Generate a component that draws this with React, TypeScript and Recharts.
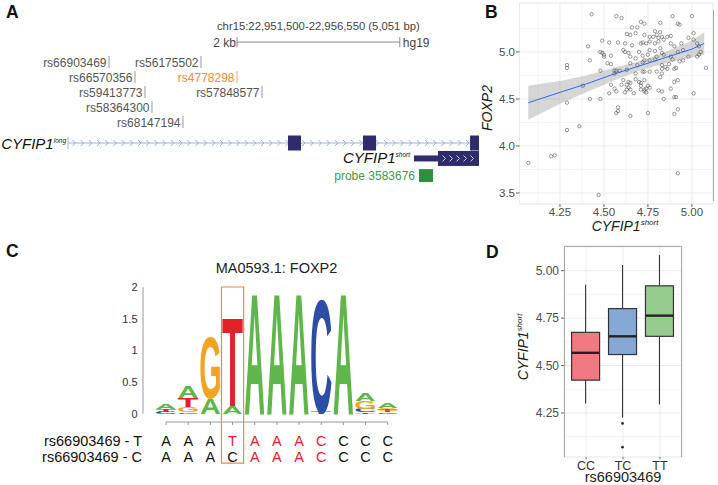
import React from 'react';
import {
  ComposedChart, Scatter, Line, Area, Bar, XAxis, YAxis, CartesianGrid,
  ReferenceLine, ReferenceArea, Label,
} from 'recharts';

const FONT = '"Liberation Sans", Arial, Helvetica, sans-serif';

// ---------- A: locus view (hg19) ----------
const chrom = 'chr15';
const regionStart = 22951500;
const regionEnd = 22956550;
const scaleBarBp = [22953577, 22955577];
const snpIds = ['rs66903469', 'rs56175502', 'rs66570356', 'rs4778298', 'rs59413773', 'rs57848577', 'rs58364300', 'rs68147194'];
const snpPos = [22952004, 22953134, 22952323, 22953577, 22952446, 22953884, 22952532, 22952913];
const snpRow = [0, 0, 1, 1, 2, 2, 3, 4];
const highlightSnp = 'rs4778298';
const longExonStart = [22954203, 22955125, 22956440];
const longExonEnd = [22954363, 22955285, 22956550];
const shortUtr = [22955751, 22956046];
const shortCds = [22956046, 22956550];
const probeId = '3583676';
const probeSpan = [22955813, 22955985];

// ---------- B: FOXP2 vs CYFIP1 short ----------
const cyfipShort = [
  4.43, 4.57, 4.60, 4.89, 5.00, 4.71, 4.73, 4.82, 4.92, 4.93,
  4.66, 4.69, 4.79, 4.82, 4.63, 4.65, 4.68, 4.73, 4.76, 4.78,
  4.80, 4.81, 4.83, 4.86, 4.88, 5.01, 4.98, 5.01, 4.49, 4.53,
  4.58, 4.62, 4.66, 4.71, 4.72, 4.74, 4.76, 4.79, 4.81, 4.84,
  4.88, 4.90, 4.94, 4.41, 4.48, 4.49, 4.50, 4.61, 4.62, 4.70,
  4.76, 4.79, 4.82, 4.83, 4.92, 4.95, 5.03, 5.04, 5.05, 5.04,
  5.03, 4.42, 4.50, 4.54, 4.64, 4.65, 4.68, 4.72, 4.73, 4.75,
  4.80, 4.84, 4.88, 4.89, 4.93, 4.95, 4.98, 4.52, 4.54, 4.65,
  4.69, 4.72, 4.76, 4.79, 4.83, 4.85, 4.87, 4.29, 4.29, 4.48,
  4.56, 4.57, 4.59, 4.63, 4.72, 4.76, 4.80, 4.83, 4.86, 4.90,
  4.91, 5.08, 4.56, 4.68, 4.73, 4.82, 4.83, 4.61, 4.64, 4.65,
  4.68, 4.70, 4.73, 4.63, 4.64, 4.54, 4.60, 4.71, 4.71, 4.75,
  4.90, 4.92, 4.38, 4.56, 4.63, 4.65, 4.71, 4.73, 4.74, 4.76,
  4.88, 4.53, 4.57, 4.62, 4.67, 4.73, 4.74, 4.81, 4.83, 4.48,
  4.42, 4.29, 4.91, 5.01, 4.84, 4.90, 4.58, 4.58, 4.57, 4.65,
  4.75, 4.90, 4.92, 4.29, 4.36, 4.20, 4.22, 4.07, 4.92, 4.47,
];
const foxp2 = [
  5.40, 5.38, 5.36, 5.38, 5.38, 5.32, 5.30, 5.31, 5.30, 5.29,
  5.26, 5.26, 5.22, 5.21, 5.19, 5.18, 5.20, 5.18, 5.16, 5.16,
  5.18, 5.15, 5.16, 5.16, 5.17, 5.20, 5.15, 5.13, 5.12, 5.10,
  5.10, 5.09, 5.07, 5.09, 5.10, 5.09, 5.11, 5.09, 5.11, 5.13,
  5.09, 5.06, 5.09, 5.06, 5.00, 4.99, 4.97, 5.02, 5.00, 5.00,
  5.02, 5.01, 5.04, 4.99, 5.00, 5.02, 5.09, 5.06, 5.00, 4.97,
  4.95, 4.91, 4.95, 4.96, 4.99, 4.95, 4.93, 4.96, 4.91, 4.97,
  4.95, 4.97, 4.95, 4.92, 4.90, 4.91, 4.95, 4.88, 4.87, 4.88,
  4.86, 4.89, 4.91, 4.92, 4.86, 4.84, 4.87, 4.86, 4.83, 4.80,
  4.80, 4.80, 4.80, 4.81, 4.79, 4.79, 4.79, 4.82, 4.82, 4.82,
  4.83, 4.83, 4.77, 4.77, 4.79, 4.73, 4.77, 4.70, 4.68, 4.67,
  4.71, 4.68, 4.70, 4.65, 4.62, 4.65, 4.65, 4.67, 4.64, 4.64,
  4.68, 4.70, 4.64, 4.61, 4.60, 4.60, 4.60, 4.60, 4.61, 4.62,
  4.61, 4.56, 4.58, 4.57, 4.56, 4.58, 4.57, 4.59, 4.58, 4.50,
  4.50, 4.46, 4.52, 4.56, 4.50, 4.52, 4.41, 4.37, 4.35, 4.32,
  4.35, 4.34, 4.39, 4.17, 4.21, 3.89, 3.90, 3.82, 3.71, 3.48,
];
const fitX = [4.07, 4.25, 4.40, 4.55, 4.70, 4.85, 5.00, 5.07];
const fitY = [4.46, 4.57, 4.66, 4.76, 4.85, 4.94, 5.03, 5.09];
const fitLo = [4.28, 4.45, 4.57, 4.69, 4.80, 4.88, 4.94, 4.97];
const fitHi = [4.64, 4.69, 4.75, 4.83, 4.90, 5.00, 5.12, 5.21];
const scatterXTicks = [4.25, 4.5, 4.75, 5.0];
const scatterYTicks = [3.5, 4.0, 4.5, 5.0];
const scatterXMinor = [4.125, 4.375, 4.625, 4.875];
const scatterYMinor = [3.75, 4.25, 4.75, 5.25];

// ---------- C: MA0593.1 FOXP2 motif ----------
const motifName = 'MA0593.1: FOXP2';
const logoPos = [1, 2, 3, 4, 5, 6, 7, 8, 9, 10, 11];
const logoLetters = [
  ['C', 'T', 'A'], ['C', 'G', 'T', 'A'], ['A', 'G'], ['A', 'T'], ['A'], ['A'],
  ['A'], ['T', 'C'], ['A'], ['T', 'C', 'G', 'A'], ['C', 'T', 'G', 'A'],
];
const logoBits = [
  [0.03, 0.04, 0.085], [0.02, 0.08, 0.15, 0.19], [0.25, 0.96], [0.13, 1.40], [1.90], [1.90],
  [1.90], [0.03, 1.78], [1.90], [0.02, 0.05, 0.13, 0.13], [0.02, 0.03, 0.04, 0.07],
];
const logoTicks = [0, 0.5, 1, 1.5, 2];
const alleleSnp = 'rs66903469';
const seqAlleleT = ['A', 'A', 'A', 'T', 'A', 'A', 'A', 'C', 'C', 'C', 'C'];
const seqAlleleC = ['A', 'A', 'A', 'C', 'A', 'A', 'A', 'C', 'C', 'C', 'C'];
const matchT = [0, 0, 0, 1, 1, 1, 1, 1, 0, 0, 0];
const matchC = [0, 0, 0, 0, 1, 1, 1, 1, 0, 0, 0];
const snpColumn = 4;

// ---------- D: CYFIP1 short by genotype ----------
const genotypes = ['CC', 'TC', 'TT'];
const boxMin = [4.30, 4.225, 4.295];
const boxQ1 = [4.423, 4.558, 4.654];
const boxMedian = [4.567, 4.654, 4.763];
const boxQ3 = [4.675, 4.80, 4.92];
const boxMax = [4.926, 5.03, 5.083];
const boxOutliers = [[], [4.195, 4.07], []];
const boxYTicks = [4.25, 4.5, 4.75, 5.0];
const boxYMinor = [4.125, 4.375, 4.625, 4.875, 5.125];

// ---------- styles ----------
const NAVY = '#2e2c6c';
const LETTER_COLOR: Record<string, string> = { A: '#5fb64a', C: '#2c4da6', G: '#f4a321', T: '#e32228' };
const LETTER_INK: Record<string, number> = { A: 72, C: 67, G: 72, T: 60 };
const BOX_FILL = ['#f07982', '#86a8d5', '#95cc8e'];
const SEQ_RED = '#e32228';
const AXIS_TEXT = '#4d4d4d';

// lanes for the locus track
const LANE_SCALE = -1.33;
const LANE_LONG = 5.4;
const LANE_SHORT = 6.43;
const LANE_PROBE = 7.57;

const fmt = (n: number) => n.toLocaleString('en-US');

const SupTitle = ({ x, y, main, sup, rotate, size = 14 }: any) => (
  <text
    transform={`translate(${x},${y})${rotate ? ' rotate(-90)' : ''}`}
    textAnchor="middle" fontFamily={FONT} fontStyle="italic" fontSize={size} fill="#1a1a1a"
  >
    {main}
    {sup && <tspan dy={-size * 0.4} fontSize={size * 0.57}>{sup}</tspan>}
  </text>
);

// ---------- A ----------
const ScaleBarShape = (p: any) => {
  const { x1, x2, y1 } = p;
  return (
    <g fontFamily={FONT}>
      <line x1={x1} x2={x2} y1={y1} y2={y1} stroke="#8a8a8a" />
      <line x1={x1} x2={x1} y1={y1 - 5} y2={y1 + 5} stroke="#8a8a8a" />
      <line x1={x2} x2={x2} y1={y1 - 5} y2={y1 + 5} stroke="#8a8a8a" />
      <text x={x1 - 1} y={y1 + 4.5} textAnchor="end" fontSize={12} fill="#444">2 kb</text>
      <text x={x2 + 3} y={y1 + 4.5} fontSize={12} fill="#444">hg19</text>
      <text x={(x1 + x2) / 2} y={y1 - 12} textAnchor="middle" fontSize={11.3} fill="#444">
        {`${chrom}:${fmt(regionStart)}-${fmt(regionEnd)} (${fmt(regionEnd - regionStart + 1)} bp)`}
      </text>
    </g>
  );
};

const BackboneShape = (p: any) => {
  const { x, y, width, height } = p;
  const cy = y + height / 2;
  const marks: number[] = [];
  for (let cx = x + 6; cx < x + width - 2; cx += 8.2) marks.push(cx);
  return (
    <g>
      <line x1={x} x2={x + width} y1={cy} y2={cy} stroke="#a4b6ca" />
      <line x1={x} x2={x} y1={cy - 6} y2={cy + 6} stroke="#a4b6ca" />
      {marks.map((cx) => (
        <path key={cx} d={`M${cx - 1.6},${cy - 3} L${cx + 1.4},${cy} L${cx - 1.6},${cy + 3}`}
          stroke="#8db4d9" fill="none" strokeWidth={1} />
      ))}
      <text x={x - 2} y={cy + 5.5} textAnchor="end" fontFamily={FONT} fontStyle="italic" fontSize={15} fill="#111">
        CYFIP1<tspan dy={-6} fontSize={6.5}>long</tspan>
      </text>
    </g>
  );
};

const UtrShape = (p: any) => {
  const { x, y, width, height } = p;
  return (
    <g>
      <rect x={x} y={y} width={width} height={height} fill={NAVY} />
      <text x={x - 4} y={y + height / 2 + 5} textAnchor="end" fontFamily={FONT} fontStyle="italic" fontSize={15} fill="#111">
        CYFIP1<tspan dy={-6} fontSize={6.5}>short</tspan>
      </text>
    </g>
  );
};

const CdsShape = (p: any) => {
  const { x, y, width, height } = p;
  const cy = y + height / 2;
  const marks: number[] = [];
  for (let cx = x + 6; cx < x + width - 3; cx += 7) marks.push(cx);
  return (
    <g>
      <rect x={x} y={y} width={width} height={height} fill={NAVY} />
      {marks.map((cx) => (
        <path key={cx} d={`M${cx - 1.5},${cy - 3} L${cx + 1.5},${cy} L${cx - 1.5},${cy + 3}`}
          stroke="#c9cbe6" fill="none" strokeWidth={1} />
      ))}
    </g>
  );
};

const SnpMark = (p: any) => {
  const { cx, cy, payload } = p;
  const lead = payload.id === highlightSnp;
  return (
    <g>
      <line x1={cx} x2={cx} y1={cy - 6} y2={cy + 6} stroke={lead ? '#f4a46a' : '#9a9a9a'} />
      <text x={cx - 2.5} y={cy + 4.5} textAnchor="end" fontFamily={FONT} fontSize={12}
        fill={lead ? '#f28a3a' : '#555'}>{payload.id}</text>
    </g>
  );
};

const GeneTrack = () => {
  const snpData = snpIds.map((id, i) => ({ x: snpPos[i], y: snpRow[i], id }));
  return (
    <ComposedChart width={480} height={185} margin={{ top: 2, right: 1, bottom: 0, left: 68 }}>
      <XAxis type="number" dataKey="x" domain={[regionStart, regionEnd]} hide />
      <YAxis type="number" dataKey="y" domain={[-4, 8.2]} reversed hide />
      <ReferenceLine
        segment={[{ x: scaleBarBp[0], y: LANE_SCALE }, { x: scaleBarBp[1], y: LANE_SCALE }]}
        shape={ScaleBarShape} ifOverflow="visible"
      />
      <ReferenceArea x1={regionStart} x2={regionEnd} y1={LANE_LONG - 0.4} y2={LANE_LONG + 0.4}
        shape={BackboneShape} ifOverflow="visible" />
      {longExonStart.map((s, i) => (
        <ReferenceArea key={s} x1={s} x2={longExonEnd[i]} y1={LANE_LONG - 0.5} y2={LANE_LONG + 0.5}
          fill={NAVY} fillOpacity={1} stroke="none" ifOverflow="visible" />
      ))}
      <ReferenceArea x1={shortUtr[0]} x2={shortUtr[1]} y1={LANE_SHORT - 0.2} y2={LANE_SHORT + 0.2}
        shape={UtrShape} ifOverflow="visible" />
      <ReferenceArea x1={shortCds[0]} x2={shortCds[1]} y1={LANE_SHORT - 0.5} y2={LANE_SHORT + 0.5}
        shape={CdsShape} ifOverflow="visible" />
      <ReferenceArea x1={probeSpan[0]} x2={probeSpan[1]} y1={LANE_PROBE - 0.43} y2={LANE_PROBE + 0.43}
        fill="#2f8f3e" fillOpacity={1} stroke="none" ifOverflow="visible">
        <Label value={`probe ${probeId}`} position="left" offset={4} fill="#3f9a4c" fontSize={12} fontFamily={FONT} />
      </ReferenceArea>
      <Scatter data={snpData} shape={SnpMark} isAnimationActive={false} />
    </ComposedChart>
  );
};

// ---------- B ----------
const OpenDot = (p: any) => (
  <circle cx={p.cx} cy={p.cy} r={1.7} fill="none" stroke="#555" strokeWidth={0.6} />
);

const ScatterPanel = () => {
  const pts = cyfipShort.map((x, i) => ({ x, y: foxp2[i] }));
  const fit = fitX.map((x, i) => ({ x, y: fitY[i], band: [fitLo[i], fitHi[i]] }));
  const tick = { fontSize: 11.5, fill: AXIS_TEXT, fontFamily: FONT };
  return (
    <ComposedChart width={248} height={240} margin={{ top: 3, right: 5, bottom: 0, left: 0 }}>
      <XAxis xAxisId="minor" type="number" dataKey="x" domain={[4.02, 5.12]} ticks={scatterXMinor} allowDataOverflow hide />
      <YAxis yAxisId="minor" type="number" dataKey="y" domain={[3.383, 5.52]} ticks={scatterYMinor} allowDataOverflow hide />
      <CartesianGrid xAxisId="minor" yAxisId="minor" stroke="#f3f3f3" strokeWidth={0.8} />
      <CartesianGrid stroke="#ebebeb" />
      <XAxis type="number" dataKey="x" domain={[4.02, 5.12]} ticks={scatterXTicks} allowDataOverflow
        tickFormatter={(v: number) => v.toFixed(2)} height={36} axisLine={false}
        tickSize={3} tickMargin={1} tickLine={{ stroke: '#666' }} tick={tick}>
        <Label content={() => <SupTitle x={155} y={231} main="CYFIP1" sup="short" />} />
      </XAxis>
      <YAxis type="number" dataKey="y" domain={[3.383, 5.52]} ticks={scatterYTicks} allowDataOverflow
        tickFormatter={(v: number) => v.toFixed(1)} width={49.5} axisLine={false}
        tickSize={3.5} tickMargin={1} tickLine={{ stroke: '#666' }} tick={tick}>
        <Label content={() => <SupTitle x={22} y={108} main="FOXP2" rotate />} />
      </YAxis>
      <Scatter data={pts} shape={OpenDot} isAnimationActive={false} />
      <Area data={fit} dataKey="band" type="linear" stroke="none" fill="#999999" fillOpacity={0.4}
        isAnimationActive={false} />
      <Line data={fit} dataKey="y" type="linear" stroke="#3366ff" strokeWidth={1} dot={false}
        isAnimationActive={false} />
    </ComposedChart>
  );
};

// ---------- C ----------
const LogoLetter = (p: any) => {
  const { x, y, width, height, letter } = p;
  const h = Math.abs(height);
  if (!letter || !(h > 0.2)) return null;
  const top = height < 0 ? y + height : y;
  const sx = (width * 0.94) / LETTER_INK[letter];
  const sy = h / 70;
  return (
    <text transform={`translate(${x + width / 2},${top + h}) scale(${sx},${sy})`} textAnchor="middle"
      fontFamily={FONT} fontWeight={700} fontSize={100} fill={LETTER_COLOR[letter]}>
      {letter}
    </text>
  );
};

const SeqTick = (p: any) => {
  const { x, y, payload, index } = p;
  const i = logoPos.indexOf(payload.value);
  const common = { fontFamily: FONT, fontSize: 14.5 };
  return (
    <g>
      {index === 0 && (
        <>
          <text x={x - 24} y={y + 19} textAnchor="end" fill="#111" {...common}>{`${alleleSnp} - T`}</text>
          <text x={x - 24} y={y + 35} textAnchor="end" fill="#111" {...common}>{`${alleleSnp} - C`}</text>
        </>
      )}
      <text x={x} y={y + 19} textAnchor="middle" fill={matchT[i] ? SEQ_RED : '#111'} {...common}>{seqAlleleT[i]}</text>
      <text x={x} y={y + 35} textAnchor="middle" fill={matchC[i] ? SEQ_RED : '#111'} {...common}>{seqAlleleC[i]}</text>
    </g>
  );
};

const LogoPanel = () => {
  const data = logoPos.map((pos, i) => {
    const row: any = { pos };
    for (let k = 0; k < 4; k++) {
      row[`l${k}`] = logoLetters[i][k] || '';
      row[`h${k}`] = logoBits[i][k] || 0;
    }
    return row;
  });
  return (
    <ComposedChart width={470} height={245} data={data} margin={{ top: 47, right: 71.2, bottom: 0, left: 0 }}>
      <XAxis type="number" dataKey="pos" domain={[-0.04, 11.5]} ticks={logoPos} interval={0} allowDataOverflow
        axisLine={false} tickSize={3} tickMargin={2} tickLine={{ stroke: '#999' }} tick={SeqTick} height={63} />
      <YAxis type="number" domain={[-0.13, 2]} ticks={logoTicks} allowDataOverflow width={143}
        axisLine={false} tickLine={false} tickSize={0} tickMargin={5.5}
        tick={{ fontSize: 11, fill: '#333', fontFamily: FONT }} />
      {[0, 1, 2, 3].map((k) => (
        <Bar key={k} dataKey={`h${k}`} stackId="logo" barSize={22} isAnimationActive={false}
          shape={(bp: any) => <LogoLetter {...bp} letter={bp.payload[`l${k}`]} />} />
      ))}
      <ReferenceLine segment={[{ x: -0.04, y: 0 }, { x: -0.04, y: 2 }]} stroke="#999" ifOverflow="visible" />
      <ReferenceLine segment={[{ x: 1, y: -0.13 }, { x: 11, y: -0.13 }]} stroke="#999" ifOverflow="visible" />
      <ReferenceArea x1={snpColumn - 0.5} x2={snpColumn + 0.5} y1={-0.78} y2={2} fill="none"
        stroke="#ea8c40" strokeWidth={1.2} ifOverflow="visible" />
    </ComposedChart>
  );
};

// ---------- D ----------
const BoxShape = (p: any) => {
  const { x, y, width, height, payload, index } = p;
  const h = Math.abs(height);
  const top = height < 0 ? y + height : y;
  const ppu = h / (payload.q3 - payload.q1);
  const cx = x + width / 2;
  const yMed = top + (payload.q3 - payload.median) * ppu;
  const yMax = top - (payload.max - payload.q3) * ppu;
  const yMin = top + h + (payload.q1 - payload.min) * ppu;
  return (
    <g>
      <line x1={cx} x2={cx} y1={yMax} y2={top} stroke="#333" strokeWidth={1.1} />
      <line x1={cx} x2={cx} y1={top + h} y2={yMin} stroke="#333" strokeWidth={1.1} />
      <rect x={x} y={top} width={width} height={h} fill={BOX_FILL[index]} stroke="#333" strokeWidth={1.2} />
      <line x1={x} x2={x + width} y1={yMed} y2={yMed} stroke="#222" strokeWidth={2.4} />
      {payload.outliers.map((v: number) => (
        <circle key={v} cx={cx} cy={top + h + (payload.q1 - v) * ppu} r={1.3} fill="#222" />
      ))}
    </g>
  );
};

const BoxPanel = () => {
  const data = genotypes.map((g, i) => ({
    genotype: g, iqr: [boxQ1[i], boxQ3[i]], q1: boxQ1[i], q3: boxQ3[i],
    median: boxMedian[i], min: boxMin[i], max: boxMax[i], outliers: boxOutliers[i],
  }));
  return (
    <ComposedChart width={248} height={245} data={data} margin={{ top: 6, right: 36, bottom: 0, left: 0 }}>
      <YAxis yAxisId="minor" type="number" domain={[4.018, 5.13]} ticks={boxYMinor} allowDataOverflow hide />
      <CartesianGrid yAxisId="minor" vertical={false} stroke="#f3f3f3" strokeWidth={0.8} />
      <CartesianGrid stroke="#ebebeb" />
      <XAxis dataKey="genotype" type="category" padding={{ left: 3.6, right: 3.6 }} height={28} interval={0}
        axisLine={false} tickSize={2.5} tickMargin={1.5} tickLine={{ stroke: '#666' }}
        tick={{ fontSize: 12.5, fill: '#333', fontFamily: FONT }}>
        <Label content={() => (
          <text x={153} y={482 - 240} textAnchor="middle" fontFamily={FONT} fontSize={14.5} fill="#222">{alleleSnp}</text>
        )} />
      </XAxis>
      <YAxis type="number" domain={[4.018, 5.13]} ticks={boxYTicks} allowDataOverflow width={94}
        tickFormatter={(v: number) => v.toFixed(2)} axisLine={false} tickSize={3} tickMargin={2}
        tickLine={{ stroke: '#666' }} tick={{ fontSize: 12, fill: AXIS_TEXT, fontFamily: FONT }}>
        <Label content={() => <SupTitle x={58} y={107} main="CYFIP1" sup="short" rotate />} />
      </YAxis>
      <Bar dataKey="iqr" barSize={28} shape={BoxShape} isAnimationActive={false} />
    </ComposedChart>
  );
};

export default function App() {
  const letter = { fontFamily: FONT, fontWeight: 700, fontSize: 17.5, fill: '#111' };
  return (
    <div style={{ position: 'absolute', left: 0, top: 0, width: 718, height: 485, background: '#fff', overflow: 'hidden' }}>
      <div style={{ position: 'absolute', left: 0, top: 0 }}><GeneTrack /></div>
      <div style={{ position: 'absolute', left: 470, top: 0 }}><ScatterPanel /></div>
      <div style={{ position: 'absolute', left: 0, top: 240 }}><LogoPanel /></div>
      <div style={{ position: 'absolute', left: 470, top: 240 }}><BoxPanel /></div>
      <svg width={718} height={485} style={{ position: 'absolute', left: 0, top: 0, pointerEvents: 'none' }}>
        <text x={6} y={18} {...letter}>A</text>
        <text x={485} y={18} {...letter}>B</text>
        <text x={6} y={257} {...letter}>C</text>
        <text x={486} y={258} {...letter}>D</text>
        <text x={276.5} y={273} textAnchor="middle" fontFamily={FONT} fontSize={14.5} fill="#222">{motifName}</text>
        <line x1={713.5} x2={713.5} y1={10} y2={201} stroke="#aaa" />
        <path d="M564.5,457 V246.5 H681.5 V457" fill="none" stroke="#aaa" />
      </svg>
    </div>
  );
}
